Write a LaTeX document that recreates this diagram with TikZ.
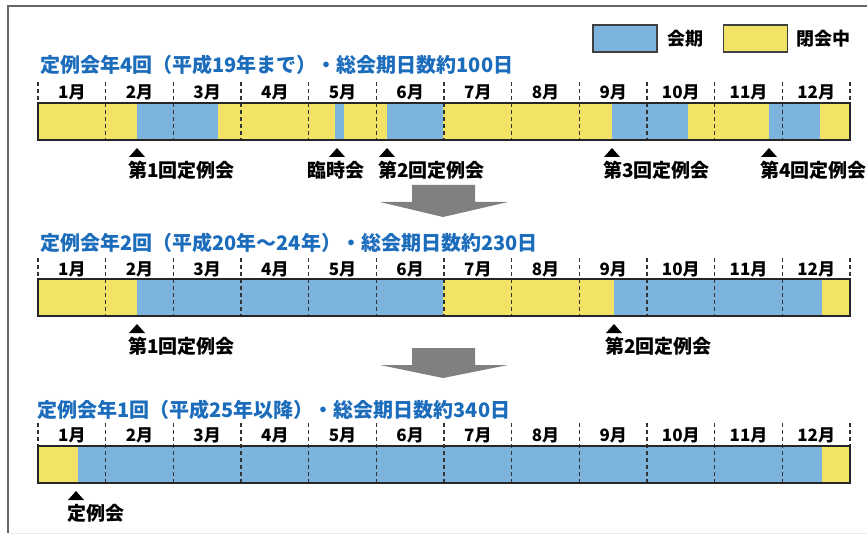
\documentclass[tikz,border=0pt]{standalone}
\usepackage{fontspec}
\setmainfont{Noto Sans CJK JP}
\usetikzlibrary{positioning}

\definecolor{kaiki}{RGB}{124,180,222}
\definecolor{heikai}{RGB}{242,226,102}
\definecolor{titleblue}{RGB}{28,108,188}

\tikzset{
  titletext/.style={anchor=west,inner sep=0pt,text=titleblue,font=\bfseries\fontsize{20}{22}\selectfont},
  monthtext/.style={inner sep=0pt,font=\bfseries\fontsize{17}{19}\selectfont},
  evtext/.style={inner sep=0pt,font=\bfseries\fontsize{19}{21}\selectfont},
  legtext/.style={inner sep=0pt,font=\bfseries\fontsize{18}{20}\selectfont},
  legbox/.style={draw=black!75,line width=1.3pt,minimum width=64pt,minimum height=27pt,inner sep=0pt},
  baredge/.style={draw=black!85,line width=1.6pt},
  monthsep/.style={black!80,line width=1.3pt,dash pattern=on 4pt off 3pt},
  bigarrow/.style={fill=black!50}
}

\begin{document}
\begin{tikzpicture}[x=1pt,y=-1pt]
\useasboundingbox (0,0) rectangle (867,537);

% frame
\draw[black!60,line width=1.5pt] (8,533) -- (8,6) -- (867,6);
\draw[black!8,line width=1pt] (8,533) -- (867,533);

% legend
\node[legbox,fill=kaiki] (lgkaiki) at (625,38.5) {};
\node[legtext,right=10pt of lgkaiki] (lgkaikitext) {会期};
\node[legbox,fill=heikai] (lgheikai) at (755.5,38.5) {};
\node[legtext,right=8pt of lgheikai] (lgheikaitext) {閉会中};

% titles
\node[titletext] (title1) at (40,65) {定例会年4回（平成19年まで）・総会期日数約100日};
\node[titletext] (title2) at (40,243) {定例会年2回（平成20年～24年）・総会期日数約230日};
\node[titletext] (title3) at (37,410) {定例会年1回（平成25年以降）・総会期日数約340日};

% bars: closed (yellow) first, sessions (blue) on top
\fill[heikai] (38,103) rectangle (850,140);
\fill[heikai] (38,279) rectangle (850,316);
\fill[heikai] (38,446) rectangle (850,483);
\foreach \a/\b/\t/\u in {137/218/103/140, 335/344/103/140, 387/443/103/140,
  612/688/103/140, 769/820/103/140, 137/443/279/316, 614/822/279/316, 78/822/446/483}
  \fill[kaiki] (\a,\t) rectangle (\b,\u);

% month separators and labels
\foreach \tk/\u/\ly/\r in {82/140/92/1, 258/316/269/2, 423/483/435/3}{
  \foreach \k in {0,...,12}
    \draw[monthsep] ({38+\k*67.667},\tk) -- ({38+\k*67.667},\u);
  \foreach \k in {1,...,12}
    \node[monthtext] (m\r-\k) at ({38+(\k-0.5)*67.667},\ly) {\k 月};
}

\draw[baredge] (38,103) rectangle (850,140);
\draw[baredge] (38,279) rectangle (850,316);
\draw[baredge] (38,446) rectangle (850,483);

% sessions opening marks
\foreach \x/\u/\n/\t in {137/140/e1a/第1回定例会, 387/140/e1c/第2回定例会,
  612/140/e1d/第3回定例会, 769/140/e1e/第4回定例会,
  137/316/e2a/第1回定例会, 614/316/e2b/第2回定例会, 76/483/e3a/定例会}{
  \fill (\x-8,\u+17) -- (\x+8,\u+17) -- (\x,\u+8) -- cycle;
  \node[evtext,anchor=west] (\n) at (\x-9,\u+30) {\t};
}
\fill (337-8,157) -- (337+8,157) -- (337,148) -- cycle;
\node[evtext] (e1b) at (336,170) {臨時会};

% arrows between the periods
\fill[bigarrow] (412,185) -- (475,185) -- (475,202) -- (508,202) -- (443,217)
  -- (380,202) -- (412,202) -- cycle;
\fill[bigarrow] (412,348) -- (475,348) -- (475,365) -- (508,365) -- (443,378)
  -- (380,365) -- (412,365) -- cycle;
\end{tikzpicture}
\end{document}
